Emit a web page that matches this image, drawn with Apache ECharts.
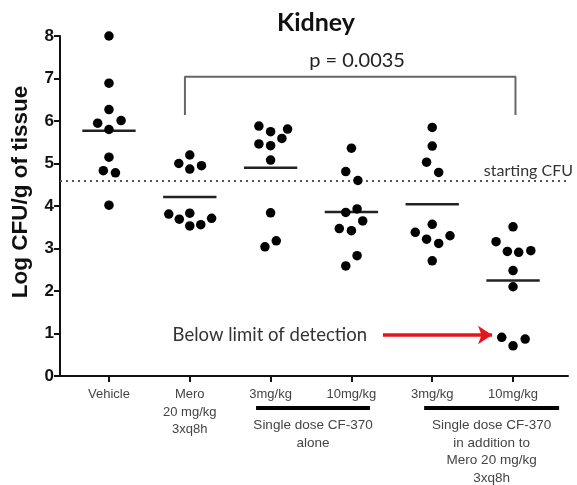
<!DOCTYPE html>
<html>
<head>
<meta charset="utf-8">
<script src="https://cdn.jsdelivr.net/npm/echarts@6/dist/echarts.min.js"></script>
<style>
html,body{margin:0;padding:0;background:#fff;}
#chart{width:577px;height:485px;}
</style>
</head>
<body>
<div id="chart"></div>
<script>
// ---------- data ----------
const categories = ['Vehicle', 'Mero\n20 mg/kg\n3xq8h', '3mg/kg', '10mg/kg', '3mg/kg', '10mg/kg'];
const yTicks = [0, 1, 2, 3, 4, 5, 6, 7, 8];

const vehicle       = [8.00, 6.89, 6.27, 5.95, 6.01, 5.80, 5.15, 4.83, 4.78, 4.02];
const vehicleJitter = [0, 0, 0, -0.14, 0.15, 0, 0, -0.07, 0.08, 0];
const mero          = [5.20, 5.00, 4.87, 4.95, 3.81, 3.69, 3.83, 3.53, 3.56, 3.71];
const meroJitter    = [0, -0.136, 0, 0.145, -0.26, -0.13, 0, 0, 0.136, 0.27];
const cf3           = [5.88, 5.75, 5.81, 5.59, 5.46, 5.42, 5.08, 3.84, 3.18, 3.04];
const cf3Jitter     = [-0.145, 0, 0.21, 0.14, -0.145, 0, 0, 0, 0.07, -0.07];
const cf10          = [5.36, 4.81, 4.60, 3.93, 3.85, 3.65, 3.47, 3.42, 2.83, 2.59];
const cf10Jitter    = [0, -0.07, 0.08, 0.07, -0.07, 0.14, -0.15, 0, 0.07, -0.07];
const combo3        = [5.85, 5.41, 5.03, 4.79, 3.57, 3.38, 3.22, 3.12, 3.30, 2.71];
const combo3Jitter  = [0, 0, -0.07, 0.08, 0, -0.21, -0.07, 0.08, 0.22, 0];
const combo10       = [3.51, 3.16, 2.93, 2.91, 2.95, 2.48, 2.10, 0.91, 0.71, 0.87];
const combo10Jitter = [0, -0.21, -0.07, 0.07, 0.22, 0, 0, -0.14, 0, 0.15];
const groupMeans    = [5.77, 4.21, 4.90, 3.86, 4.04, 2.25];

const startingCFU = 4.6;
const startingLabel = 'starting CFU';
const pLabel = 'p = 0.0035';
const bracketX = [0.94, 5.03];
const bracketY = [6.14, 7.04];
const pLabelPos = [3.07, 7.43];
const lodLabel = 'Below limit of detection';
const lodLabelPos = [1.99, 0.965];
const lodArrowX = [3.39, 4.74];
const lodArrowY = 0.965;
const groupBarRanges = [[1.82, 3.23], [3.90, 5.57]];
const groupLabels = ['Single dose CF-370\nalone', 'Single dose CF-370\nin addition to\nMero 20 mg/kg\n3xq8h'];
const yTitle = 'Log CFU/g of tissue';

// ---------- build ----------
const groups = [
  [vehicle, vehicleJitter], [mero, meroJitter], [cf3, cf3Jitter],
  [cf10, cf10Jitter], [combo3, combo3Jitter], [combo10, combo10Jitter]
];
const points = [];
groups.forEach(([vals, jit], gi) => vals.forEach((v, k) => points.push([gi + jit[k], v])));
const meanData = groupMeans.map((m, i) => [i, m]);
const halfMean = 0.33;

const chart = echarts.init(document.getElementById('chart'), null, {renderer: 'canvas'});
const axisColor = '#111';

chart.setOption({
  animation: false,
  backgroundColor: '#fff',
  title: {
    text: 'Kidney', left: 311, top: 5, textAlign: 'center',
    textStyle: {fontFamily: 'Lato', fontWeight: 'bold', fontSize: 25, color: '#111'}
  },
  grid: {left: 60, right: 9, top: 36, bottom: 109, containLabel: false},
  xAxis: {
    type: 'value', min: -0.606, max: 5.68,
    splitLine: {show: false},
    axisLine: {show: true, onZero: false, lineStyle: {color: axisColor, width: 2}},
    axisTick: {show: true, customValues: [0, 1, 2, 3, 4, 5], length: 6, lineStyle: {color: axisColor, width: 2}},
    axisLabel: {
      customValues: [0, 1, 2, 3, 4, 5],
      formatter: v => categories[Math.round(v)],
      fontFamily: 'Liberation Sans', fontSize: 13, color: '#444', lineHeight: 17.5, margin: 10
    }
  },
  yAxis: {
    type: 'value', min: 0, max: 8, interval: 1,
    splitLine: {show: false},
    axisLine: {show: true, onZero: false, lineStyle: {color: axisColor, width: 2}},
    axisTick: {show: true, length: 6, lineStyle: {color: axisColor, width: 2}},
    axisLabel: {fontFamily: 'Liberation Sans', fontWeight: 'bold', fontSize: 17, color: '#111', margin: 6,
      formatter: v => yTicks.includes(v) ? String(v) : ''}
  },
  series: [
    {
      type: 'scatter', data: points, symbolSize: 9.5, itemStyle: {color: '#000', opacity: 1}, z: 5,
      markLine: {
        silent: true, symbol: 'none', animation: false,
        lineStyle: {type: [2, 4], color: '#555', width: 2},
        label: {show: false},
        data: [{yAxis: startingCFU}]
      }
    },
    {
      type: 'custom', data: meanData, z: 4,
      renderItem: (params, api) => {
        const p1 = api.coord([api.value(0) - halfMean, api.value(1)]);
        const p2 = api.coord([api.value(0) + halfMean, api.value(1)]);
        return {type: 'line', shape: {x1: p1[0], y1: p1[1], x2: p2[0], y2: p2[1]},
          style: {stroke: '#222', lineWidth: 2.5}};
      }
    },
    {
      type: 'line', symbol: 'none', silent: true,
      lineStyle: {color: '#666', width: 2},
      data: [[bracketX[0], bracketY[0]], [bracketX[0], bracketY[1]], [bracketX[1], bracketY[1]], [bracketX[1], bracketY[0]]]
    },
    {
      type: 'line', data: [], silent: true,
      markLine: {
        silent: true, symbol: ['none', 'arrow'], symbolSize: [14, 14], animation: false,
        lineStyle: {type: 'solid', color: '#e8141b', width: 3.5},
        label: {show: false},
        data: [[{coord: [lodArrowX[0], lodArrowY]}, {coord: [lodArrowX[1], lodArrowY]}]]
      }
    }
  ]
});

// annotations positioned through the axes
const px = (x, y) => chart.convertToPixel({gridIndex: 0}, [x, y]);
const base = px(0, 0);
const graphics = [];
const pPos = px(pLabelPos[0], pLabelPos[1]);
graphics.push({type: 'text', x: pPos[0], y: pPos[1], style: {text: pLabel, fontFamily: 'Lato', fontSize: 20, fill: '#222', textAlign: 'center', textVerticalAlign: 'middle'}});
const lPos = px(lodLabelPos[0], lodLabelPos[1]);
graphics.push({type: 'text', x: lPos[0], y: lPos[1], style: {text: lodLabel, fontFamily: 'Lato', fontSize: 18.5, fill: '#333', textAlign: 'center', textVerticalAlign: 'middle'}});
const sPos = px(5.68, startingCFU);
graphics.push({type: 'text', x: sPos[0] + 5, y: sPos[1] - 10, style: {text: startingLabel, fontFamily: 'Lato', fontSize: 16, fill: '#333', textAlign: 'right', textVerticalAlign: 'middle'}});
const yMid = px(0, 4.0);
graphics.push({type: 'text', x: 21, y: yMid[1] - 14, rotation: Math.PI / 2, style: {text: yTitle, fontFamily: 'Liberation Sans', fontWeight: 'bold', fontSize: 22.5, fill: '#111', textAlign: 'center', textVerticalAlign: 'middle'}});
groupBarRanges.forEach((r, i) => {
  const a = px(r[0], 0), b = px(r[1], 0);
  graphics.push({type: 'line', shape: {x1: a[0], y1: base[1] + 32, x2: b[0], y2: base[1] + 32}, style: {stroke: '#000', lineWidth: 4}});
  graphics.push({type: 'text', x: (a[0] + b[0]) / 2, y: base[1] + 41, style: {text: groupLabels[i], fontFamily: 'Liberation Sans', fontSize: 13.5, fill: '#444', textAlign: 'center', textVerticalAlign: 'top', lineHeight: 17.5}});
});
chart.setOption({graphic: graphics});
</script>
</body>
</html>
